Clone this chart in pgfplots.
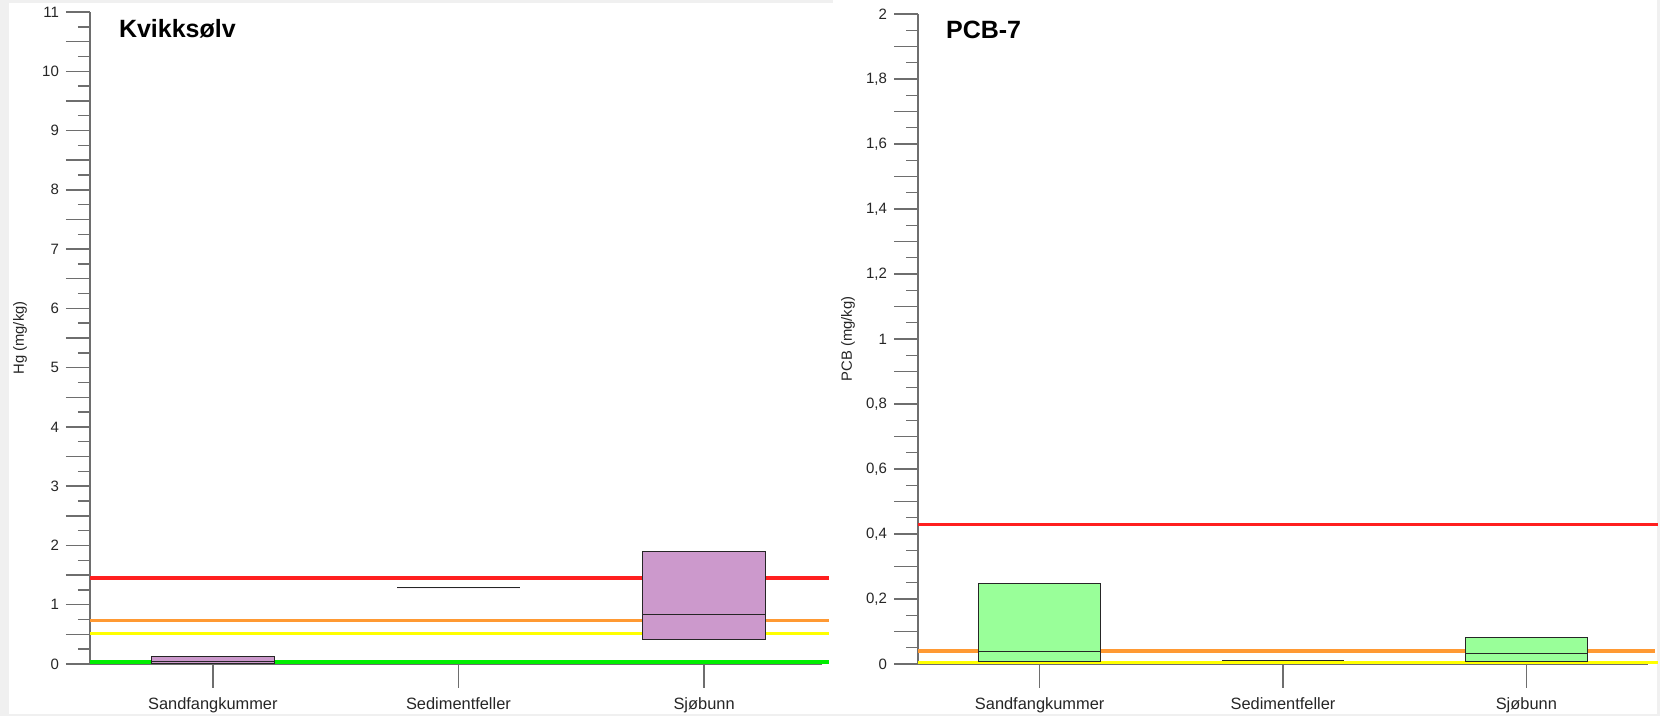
\documentclass[border=0pt]{standalone}
\usepackage{fontspec}
\setmainfont{Liberation Sans}
\usepackage{pgfplots}
\pgfplotsset{compat=1.18}
\usepgfplotslibrary{statistics}

\definecolor{bggray}{HTML}{F0F0F0}
\definecolor{axgray}{HTML}{6E6E6E}
\definecolor{limred}{HTML}{FF1F1F}
\definecolor{limorange}{HTML}{FF9933}
\definecolor{limyellow}{HTML}{FFFF00}
\definecolor{limgreen}{HTML}{00EE00}
\definecolor{hgfill}{HTML}{CC99CC}
\definecolor{pcbfill}{HTML}{99FF99}

\pgfplotsset{
  panel/.style={
    scale only axis,
    anchor=south west,
    axis lines=left,
    axis line style={-, axgray, line width=0.8pt},
    every tick/.style={axgray, line width=0.7pt},
    tick align=outside,
    major tick length=12pt,
    minor tick length=6pt,
    xtick={1,2,3},
    xticklabels={Sandfangkummer,Sedimentfeller,Sjøbunn},
    xticklabel style={font=\fontsize{8.2}{10}\selectfont, text=black!85, yshift=-1.5pt},
    yticklabel style={font=\fontsize{7.5}{9}\selectfont, text=black!85},
    xmin=0.5, ymin=0,
    clip=false,
    boxplot/draw direction=y,
    every axis y label/.style={at={(axis description cs:-0.0957,0.5)}, rotate=90, anchor=center,
      font=\fontsize{7.4}{9}\selectfont, text=black!85},
  },
  limit/.style={line width=1.6pt, #1},
  box/.style={line width=0.5pt, draw=black!85},
}

\begin{document}
\begin{tikzpicture}
\path[use as bounding box] (0,0) rectangle (830pt,358pt);
\fill[bggray] (0,0) rectangle (830pt,358pt);
\fill[white] (4.5pt,1pt) rectangle (416.5pt,356.5pt);
\fill[white] (416.5pt,1pt) rectangle (828.5pt,358pt);

% === Kvikksoelv ===
\begin{axis}[
  panel,
  at={(45pt,26pt)},
  width=366pt, height=326pt,
  xmax=3.48, ymax=11,
  ytick={0,0.5,1,1.5,2,2.5,3,3.5,4,4.5,5,5.5,6,6.5,7,7.5,8,8.5,9,9.5,10,10.5,11},
  yticklabels={0,,1,,2,,3,,4,,5,,6,,7,,8,,9,,10,,11},
  minor ytick={0.25,0.75,1.25,1.75,2.25,2.75,3.25,3.75,4.25,4.75,5.25,5.75,6.25,6.75,7.25,7.75,8.25,8.75,9.25,9.75,10.25,10.75},
  ylabel={Hg (mg/kg)},
]
\addplot[limit=limgreen, line width=2pt] coordinates {(0.5,0.04) (3.51,0.04)};
\addplot[limit=limyellow] coordinates {(0.5,0.51) (3.51,0.51)};
\addplot[limit=limorange] coordinates {(0.5,0.74) (3.51,0.74)};
\addplot[limit=limred] coordinates {(0.5,1.45) (3.51,1.45)};

\addplot[box, fill=hgfill, boxplot prepared={draw position=1, lower whisker=0.01, lower quartile=0.01,
  median=0.04, upper quartile=0.125, upper whisker=0.125, box extend=0.5, whisker extend=0.18}] coordinates {};
\addplot[box, fill=hgfill, boxplot prepared={draw position=2, lower whisker=1.29, lower quartile=1.29,
  median=1.29, upper quartile=1.29, upper whisker=1.29, box extend=0.5, whisker extend=0.18}] coordinates {};
\addplot[box, fill=hgfill, boxplot prepared={draw position=3, lower whisker=0.41, lower quartile=0.41,
  median=0.83, upper quartile=1.9, upper whisker=1.9, box extend=0.5, whisker extend=0.18}] coordinates {};

\node[anchor=west, font=\bfseries\fontsize{12.5}{15}\selectfont] at (rel axis cs:0.030,0.974) {Kvikksølv};
\end{axis}

% === PCB-7 ===
\begin{axis}[
  panel,
  at={(459pt,26pt)},
  width=365pt, height=325pt,
  xmax=3.5, ymax=2,
  ytick={0,0.1,0.2,0.3,0.4,0.5,0.6,0.7,0.8,0.9,1,1.1,1.2,1.3,1.4,1.5,1.6,1.7,1.8,1.9,2},
  yticklabels={0,,{0,2},,{0,4},,{0,6},,{0,8},,1,,{1,2},,{1,4},,{1,6},,{1,8},,2},
  minor ytick={0.05,0.15,0.25,0.35,0.45,0.55,0.65,0.75,0.85,0.95,1.05,1.15,1.25,1.35,1.45,1.55,1.65,1.75,1.85,1.95},
  ylabel={PCB (mg/kg)},
]
\addplot[limit=limyellow] coordinates {(0.5,0.004) (3.54,0.004)};
\addplot[limit=limorange] coordinates {(0.5,0.04) (3.53,0.04)};
\addplot[limit=limred] coordinates {(0.5,0.43) (3.54,0.43)};

\addplot[box, fill=pcbfill, boxplot prepared={draw position=1, lower whisker=0.007, lower quartile=0.007,
  median=0.038, upper quartile=0.249, upper whisker=0.249, box extend=0.5, whisker extend=0.18}] coordinates {};
\addplot[box, fill=pcbfill, boxplot prepared={draw position=2, lower whisker=0.012, lower quartile=0.012,
  median=0.012, upper quartile=0.012, upper whisker=0.012, box extend=0.5, whisker extend=0.18}] coordinates {};
\addplot[box, fill=pcbfill, boxplot prepared={draw position=3, lower whisker=0.007, lower quartile=0.007,
  median=0.031, upper quartile=0.08, upper whisker=0.08, box extend=0.5, whisker extend=0.18}] coordinates {};

\node[anchor=west, font=\bfseries\fontsize{12.5}{15}\selectfont] at (rel axis cs:0.0288,0.975) {PCB-7};
\end{axis}
\end{tikzpicture}
\end{document}
